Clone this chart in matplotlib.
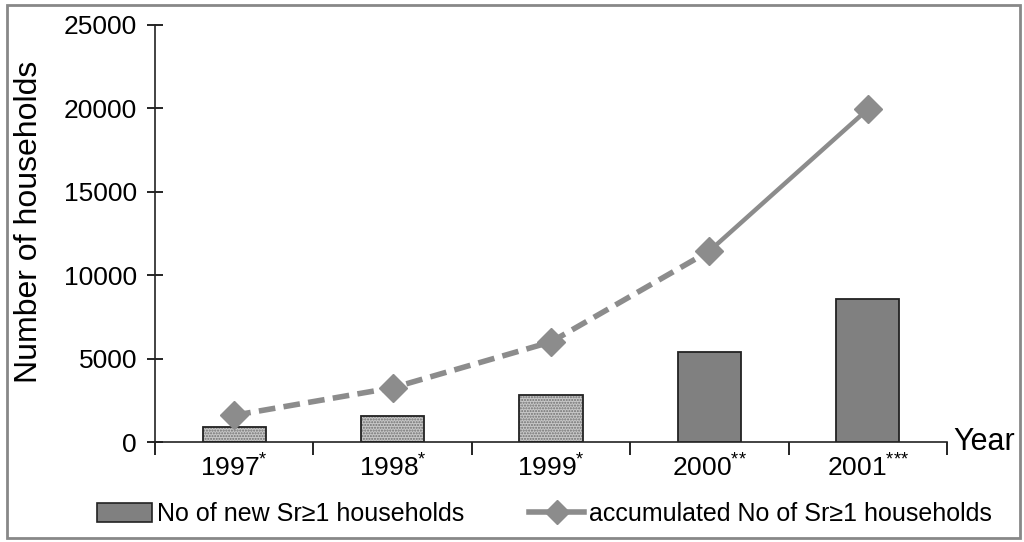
import matplotlib
matplotlib.use("Agg")
import matplotlib.pyplot as plt
from matplotlib.patches import Patch, Rectangle
from matplotlib.lines import Line2D

plt.rcParams['font.family'] = ['Liberation Sans', 'DejaVu Sans']
plt.rcParams['mathtext.default'] = 'regular'

# data
years = ['1997$^{*}$', '1998$^{*}$', '1999$^{*}$', '2000$^{{*}{*}}$', '2001$^{{*}{*}{*}}$']
new_households = [900, 1550, 2800, 5400, 8550]
accumulated = [1600, 3250, 6000, 11450, 19950]
estimated = [True, True, True, False, False]   # hatched bars / dashed line

bar_dark = '#808080'
line_grey = '#8c8c8c'

fig = plt.figure(figsize=(10.24, 5.42), dpi=100)
ax = fig.add_axes([0.1514, 0.1845, 0.7734, 0.7694])

x = list(range(len(years)))
for i in x:
    if estimated[i]:
        ax.bar(i, new_households[i], width=0.4, color='#c8c8c8', hatch='......',
               edgecolor='#707070', linewidth=0, zorder=2)
        ax.bar(i, new_households[i], width=0.4, fill=False, edgecolor='#222222',
               linewidth=1.3, zorder=3)
    else:
        ax.bar(i, new_households[i], width=0.4, color=bar_dark, edgecolor='#222222',
               linewidth=1.3, zorder=3)

# dashed part of the accumulated line (estimated years), solid for the rest
last_est = max(i for i in x if estimated[i]) + 1
ax.plot(x[:last_est + 1], accumulated[:last_est + 1], color=line_grey, lw=4,
        ls=(0, (3, 1.5)), zorder=4)
ax.plot(x[last_est:], accumulated[last_est:], color=line_grey, lw=3.2, zorder=4)
ax.plot(x, accumulated, ls='none', marker='D', ms=14, color=line_grey, zorder=5)

ax.set_xlim(-0.5, len(years) - 0.5)
ax.set_ylim(0, 25000)
ax.set_yticks(range(0, 25001, 5000))
ax.tick_params(axis='y', direction='inout', length=12, width=1.2, labelsize=19, pad=7)

ax.set_xticks([i - 0.5 for i in range(len(years) + 1)])
ax.set_xticklabels([])
ax.set_xticks(x, minor=True)
ax.set_xticklabels(years, minor=True, fontsize=19)
ax.tick_params(axis='x', which='major', direction='out', length=9, width=1.2)
ax.tick_params(axis='x', which='minor', length=0, pad=9)

for s in ['top', 'right']:
    ax.spines[s].set_visible(False)
for s in ['left', 'bottom']:
    ax.spines[s].set_linewidth(1.2)
    ax.spines[s].set_color('#222222')

ax.set_ylabel('Number of households', fontsize=23)
ax.yaxis.set_label_coords(-0.14, 0.528)
ax.text(1.008, 0.0, 'Year', transform=ax.transAxes, fontsize=22,
        ha='left', va='center')

handles = [Patch(facecolor=bar_dark, edgecolor='#222222', linewidth=1.2),
           Line2D([], [], color=line_grey, lw=4, marker='D', ms=12)]
labels = ['No of new Sr≥1 households', 'accumulated No of Sr≥1 households']
fig.legend(handles, labels, loc='center', bbox_to_anchor=(0.532, 0.051), ncol=2,
           frameon=False, fontsize=18, handlelength=2.2, handleheight=0.8,
           columnspacing=2.6, handletextpad=0.2)

fig.patches.append(Rectangle((0.007, 0.008), 0.989, 0.983, transform=fig.transFigure,
                             fill=False, edgecolor='#888888', linewidth=2))

fig.savefig('out.png', dpi=100)
